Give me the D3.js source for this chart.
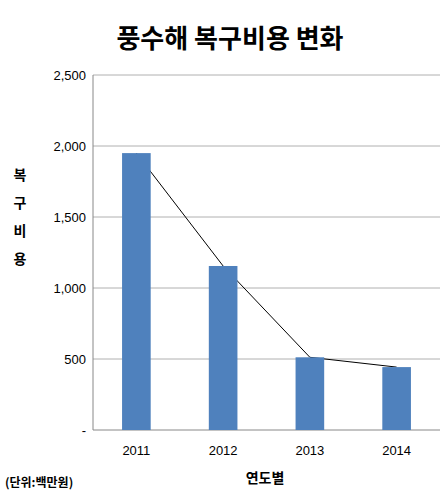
<!DOCTYPE html>
<html><head><meta charset="utf-8">
<script src="https://cdn.jsdelivr.net/npm/d3@7"></script>
<style>body{margin:0;background:#fff}</style></head>
<body><svg id="c" width="448" height="500"></svg>
<script>
const years = ["2011","2012","2013","2014"];
const costs = [1950, 1155, 512, 443];
const yTicks = [0,500,1000,1500,2000,2500];
const title = "풍수해 복구비용 변화";
const yTitle = ["복","구","비","용"];
const xTitle = "연도별";
const unitNote = "(단위:백만원)";

const svg = d3.select("#c");
const m = {l:93, r:440, t:75, b:430};
const x = d3.scaleBand().domain(years).range([m.l, m.r]).paddingInner(0.67).paddingOuter(0.335);
const y = d3.scaleLinear().domain([0,2500]).range([m.b, m.t]);
const font = "'Noto Sans CJK KR', sans-serif";

svg.append("text").attr("x",230).attr("y",48).attr("text-anchor","middle")
  .attr("font-family",font).attr("font-weight","bold").attr("font-size",26).text(title);

svg.selectAll(".g").data(yTicks).join("line")
  .attr("x1",m.l).attr("x2",m.r).attr("y1",d=>y(d)).attr("y2",d=>y(d))
  .attr("stroke",d=>d===0?"#888":"#b0b0b0").attr("stroke-width",1);
svg.append("line").attr("x1",m.l).attr("x2",m.l).attr("y1",m.t).attr("y2",m.b).attr("stroke","#888");

svg.selectAll(".yl").data(yTicks).join("text")
  .attr("x",m.l-7).attr("y",d=>y(d)+5).attr("text-anchor","end")
  .attr("font-family","Arial, 'Liberation Sans'").attr("font-size",13)
  .text(d=>d===0?"-":d3.format(",")(d));

svg.append("path").datum(costs)
  .attr("d",d3.line().x((d,i)=>x(years[i])+x.bandwidth()/2).y(d=>y(d)))
  .attr("fill","none").attr("stroke","#000").attr("stroke-width",1);

svg.selectAll(".b").data(costs).join("rect")
  .attr("x",(d,i)=>x(years[i])).attr("width",x.bandwidth())
  .attr("y",d=>y(d)).attr("height",d=>m.b-y(d)).attr("fill","#4f81bd");

svg.selectAll(".xl").data(years).join("text")
  .attr("x",d=>x(d)+x.bandwidth()/2).attr("y",455).attr("text-anchor","middle")
  .attr("font-family","Arial, 'Liberation Sans'").attr("font-size",13).text(d=>d);

svg.selectAll(".yt").data(yTitle).join("text")
  .attr("x",20).attr("y",(d,i)=>180+i*28).attr("text-anchor","middle")
  .attr("font-family",font).attr("font-weight","bold").attr("font-size",14).text(d=>d);

svg.append("text").attr("x",265).attr("y",483).attr("text-anchor","middle")
  .attr("font-family",font).attr("font-weight","bold").attr("font-size",14).text(xTitle);
svg.append("text").attr("x",5).attr("y",487)
  .attr("font-family",font).attr("font-weight","bold").attr("font-size",12).text(unitNote);
</script></body></html>
